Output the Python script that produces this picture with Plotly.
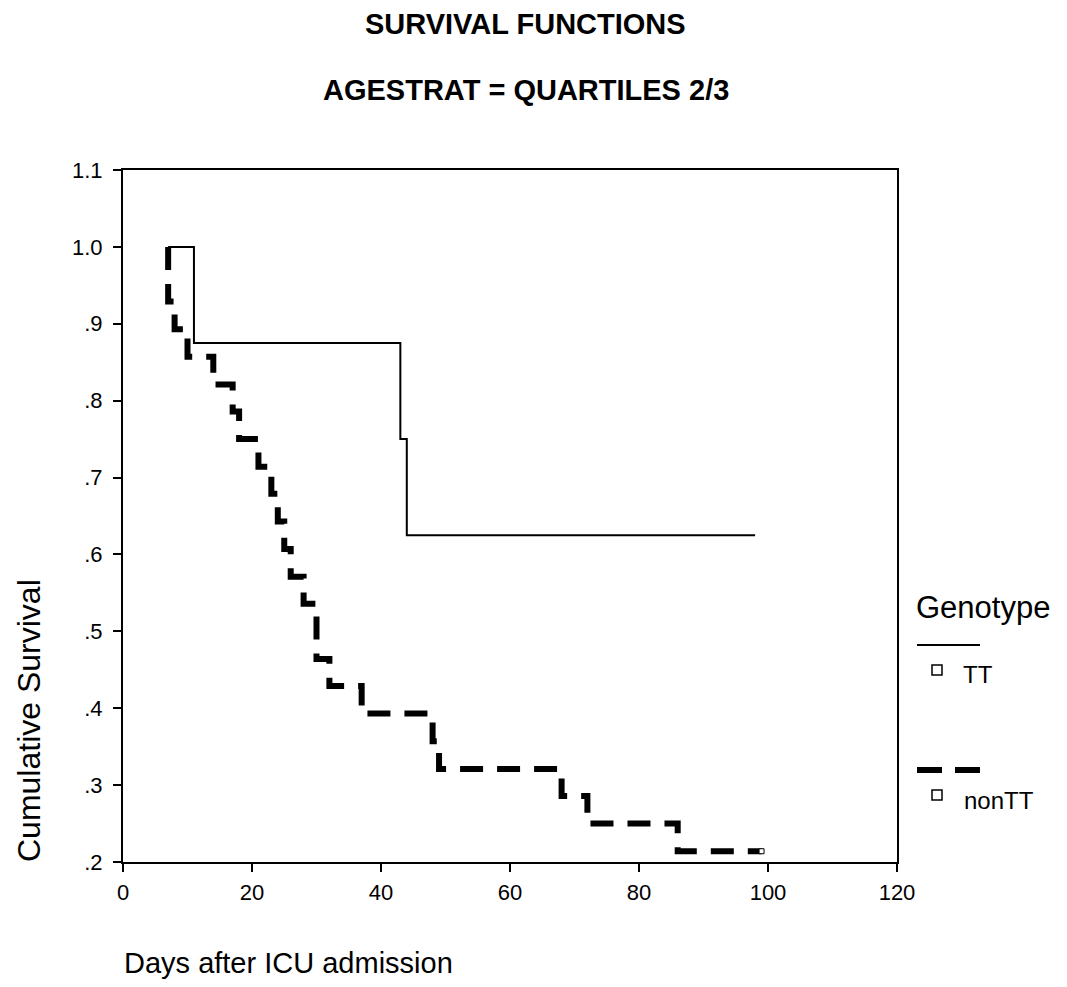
import plotly.graph_objects as go

# ---- data ----
tt_days = [7, 11, 43, 44, 98]
tt_surv = [1.0, 0.875, 0.75, 0.625, 0.625]

nontt_days = [7, 7, 8, 10, 14, 17, 18, 21, 23, 24, 25, 26, 28, 30, 32, 37, 48, 49, 68, 72, 86, 99]
nontt_surv = [1.0, 0.929, 0.893, 0.857, 0.821, 0.786, 0.75, 0.714, 0.679, 0.643, 0.607, 0.571,
              0.536, 0.464, 0.429, 0.393, 0.357, 0.321, 0.286, 0.25, 0.214, 0.214]

censor_days = [99]
censor_surv = [0.214]

group_names = ["TT", "nonTT"]
legend_title = "Genotype"
x_ticks = [0, 20, 40, 60, 80, 100, 120]
y_ticks = [0.2, 0.3, 0.4, 0.5, 0.6, 0.7, 0.8, 0.9, 1.0, 1.1]
y_ticktext = [".2", ".3", ".4", ".5", ".6", ".7", ".8", ".9", "1.0", "1.1"]

FONT = "Liberation Sans, Arial, sans-serif"
DASH = "23px,14px"

fig = go.Figure()
fig.add_trace(go.Scatter(x=tt_days, y=tt_surv, mode="lines", line=dict(color="black", width=2, shape="hv"),
                         name=group_names[0], showlegend=False))
fig.add_trace(go.Scatter(x=nontt_days, y=nontt_surv, mode="lines",
                         line=dict(color="black", width=6, shape="hv", dash=DASH),
                         name=group_names[1], showlegend=False))
fig.add_trace(go.Scatter(x=censor_days, y=censor_surv, mode="markers",
                         marker=dict(symbol="square", size=5, color="white", line=dict(color="black", width=1)),
                         showlegend=False))

fig.update_xaxes(range=[0, 120], tickvals=x_ticks, ticks="outside", ticklen=8, tickwidth=2, tickcolor="black",
                 showline=True, linewidth=2, linecolor="black", mirror=True, showgrid=False, zeroline=False,
                 ticklabelstandoff=2,
                 tickfont=dict(family=FONT, size=22, color="black"))
fig.update_yaxes(range=[0.2, 1.1], tickvals=y_ticks, ticktext=y_ticktext, ticks="outside", ticklen=8, tickwidth=2,
                 tickcolor="black", showline=True, linewidth=2, linecolor="black", mirror=True, showgrid=False,
                 zeroline=False, ticklabelstandoff=6,
                 tickfont=dict(family=FONT, size=22, color="black"))

# page has an 8px body margin: plot frame in page pixels is x 123..897, y 170..862
OFF = 8
W, H = 1067 - OFF, 987 - OFF
L, T = 123 - OFF, 170 - OFF
R = W - (897 - OFF)
B = H - (862 - OFF)
pw, ph = W - L - R, H - T - B


def px(xp):
    return (xp - OFF - L) / pw


def py(yp):
    return (H - B - (yp - OFF)) / ph


annotations = [
    dict(text="<b>SURVIVAL FUNCTIONS</b>", x=px(525), y=py(24), size=29, xanchor="center"),
    dict(text="<b>AGESTRAT = QUARTILES 2/3</b>", x=px(526), y=py(90), size=29, xanchor="center"),
    dict(text="Days after ICU admission", x=px(122), y=py(963), size=29, xanchor="left"),
    dict(text=legend_title, x=px(914), y=py(607), size=31, xanchor="left"),
    dict(text=group_names[0], x=px(961), y=py(674), size=24, xanchor="left"),
    dict(text=group_names[1], x=px(962), y=py(800), size=24, xanchor="left"),
]
for a in annotations:
    fig.add_annotation(text=a["text"], x=a["x"], y=a["y"], xref="paper", yref="paper", showarrow=False,
                       xanchor=a["xanchor"], yanchor="middle", font=dict(family=FONT, size=a["size"], color="black"))
fig.add_annotation(text="Cumulative Survival", x=px(29), y=py(721), xref="paper", yref="paper", showarrow=False,
                   textangle=-90, xanchor="center", yanchor="middle", font=dict(family=FONT, size=32, color="black"))

shapes = [
    dict(type="line", x0=px(917), x1=px(980), y0=py(645), y1=py(645), line=dict(color="black", width=2)),
    dict(type="line", x0=px(917), x1=px(980), y0=py(770), y1=py(770), line=dict(color="black", width=6, dash="25px,13px")),
    dict(type="rect", x0=px(932), x1=px(942), y0=py(665), y1=py(675), fillcolor="white", line=dict(color="black", width=1.5)),
    dict(type="rect", x0=px(932), x1=px(942), y0=py(790), y1=py(800), fillcolor="white", line=dict(color="black", width=1.5)),
]
for s in shapes:
    fig.add_shape(xref="paper", yref="paper", **s)

fig.update_layout(width=W, height=H, margin=dict(l=L, r=R, t=T, b=B), plot_bgcolor="white", paper_bgcolor="white",
                  showlegend=False)
fig.write_html("out.html")
